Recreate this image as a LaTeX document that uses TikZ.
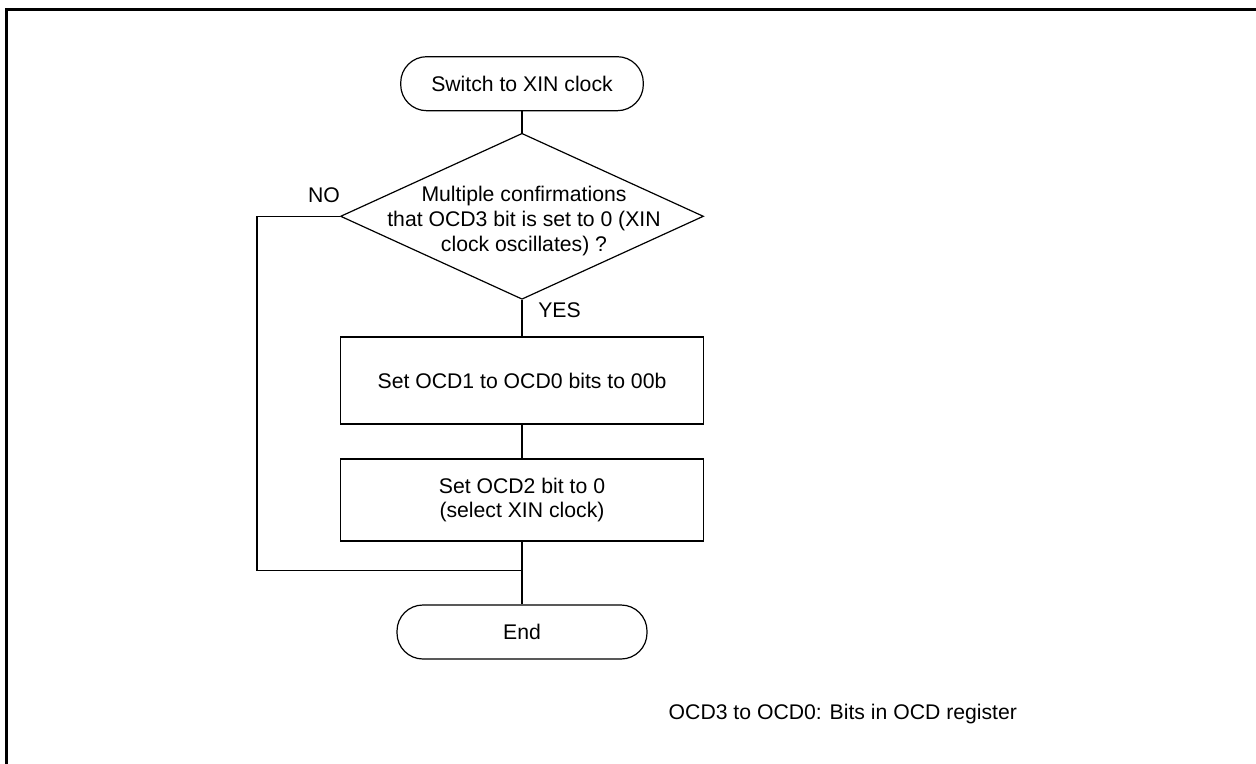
\documentclass[tikz,border=0pt]{standalone}
\usepackage{fontspec}
\setmainfont{Liberation Sans}
\usetikzlibrary{shapes.geometric}
\begin{document}
\begin{tikzpicture}[x=0.5pt,y=-0.5pt,
  line/.style={draw=black, line width=0.6pt},
  term/.style={draw=black, line width=0.6pt, rounded corners=13pt, minimum height=27pt, inner sep=0pt, font=\fontsize{10.6}{12.5}\selectfont},
  procbox/.style={draw=black, line width=0.6pt, minimum width=181.5pt, inner sep=0pt, align=center, font=\fontsize{10.6}{12.2}\selectfont},
  decshape/.style={draw=black, line width=0.6pt, diamond, minimum width=181.5pt, minimum height=83pt, inner sep=0pt},
  lbl/.style={font=\fontsize{10.6}{12.7}\selectfont, inner sep=0pt},
  frame/.style={line width=1.3pt}
]
\useasboundingbox (0,0) rectangle (1256,764);
\draw[frame] (6.2,790) -- (6.2,9.7) -- (1280,9.7);

\node[term, minimum width=121.3pt] (start) at (522,83.7) {Switch to XIN clock};
\node[decshape] (dec) at (522,216.3) {};
\node[lbl, align=center] (dectext) at (524,221) {Multiple confirmations\\that OCD3 bit is set to 0 (XIN\\clock oscillates) ?};
\node[procbox, minimum height=43.5pt] (set1) at (522,380.5) {Set OCD1 to OCD0 bits to 00b};
\node[procbox, minimum height=41pt] (set2) at (522,500) {Set OCD2 bit to 0\\(select XIN clock)};
\node[term, minimum width=125pt] (end) at (522,632) {End};

\coordinate (loopbot) at (257,570.7);
\coordinate (merge) at (522,570.7);

\draw[line] (start.south) -- (dec.north);
\draw[line] (dec.south) -- (set1.north);
\draw[line] (set1.south) -- (set2.north);
\draw[line] (set2.south) -- (end.north);
\draw[line] (dec.west) -| (loopbot) -- (merge);

\node[lbl, anchor=base] (no) at (324,203) {NO};
\node[lbl, anchor=base] (yes) at (559.5,318) {YES};
\node[lbl, anchor=base west] (note) at (668.3,719.3) {OCD3 to OCD0: Bits in OCD register};
\end{tikzpicture}
\end{document}
